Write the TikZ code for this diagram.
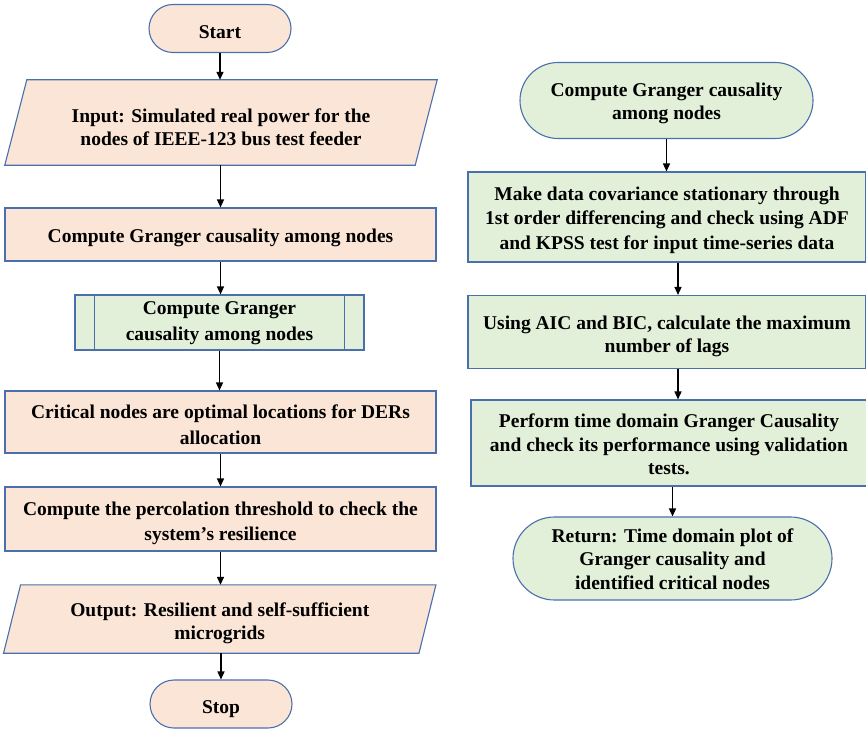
\documentclass[tikz,border=0pt]{standalone}
\usepackage{fontspec}
\setmainfont{Liberation Serif}
\usetikzlibrary{shapes.misc,arrows.meta,backgrounds}
\definecolor{peach}{HTML}{FBE5D6}
\definecolor{mint}{HTML}{E2F0D9}
\definecolor{edgec}{HTML}{4A6FAD}
\begin{document}
\begin{tikzpicture}[x=1pt,y=-1pt,
 lsp/.style={font=\fontsize{19.5}{#1}\selectfont\bfseries},
 dn/.style={execute at begin node={\rule{0pt}{#1}}},
 txt/.style={lsp=23.5pt, align=center, inner sep=0pt, text=black},
 base/.style={txt, dn=20.5pt},
 pbox/.style={base, draw=edgec, fill=peach, line width=1.1pt},
 gbox/.style={base, draw=edgec, fill=mint, line width=1.1pt},
 term/.style={rounded rectangle},
 para/.style={draw=edgec, fill=peach, line width=1.1pt},
 inner line/.style={draw=edgec, line width=1.1pt},
 arr/.style={-{Triangle[length=8pt,width=7pt]}, line width=1.4pt, black}]
\useasboundingbox (0,0) rectangle (866,733);

% left column
\node[pbox,term,minimum width=142,minimum height=48,dn=17.5pt] (start) at (220,28.5) {Start};
\node[minimum width=410,minimum height=85,inner sep=0pt] (input) at (221,122.5) {};
\node[txt,lsp=23pt] (inputT) at ([yshift=-5pt]input.center) {Input: Simulated real power for the\\nodes of IEEE-123 bus test feeder};
\node[pbox,minimum width=431,minimum height=53] (g1) at (220.5,234.5) {Compute Granger causality among nodes};
\node[gbox,minimum width=289,minimum height=55] (pre) at (219.5,322.5) {};
\node[txt,lsp=26pt] (preT) at ([yshift=-1pt]pre.center) {Compute Granger\\causality among nodes};
\node[pbox,minimum width=431,minimum height=62] (crit) at (220.5,422) {};
\node[txt,lsp=25.5pt] (critT) at ([yshift=-2.5pt]crit.center) {Critical nodes are optimal locations for DERs\\allocation};
\node[pbox,minimum width=431,minimum height=64] (perc) at (220.5,519) {};
\node[txt,lsp=25.5pt] (percT) at ([yshift=-4.5pt]perc.center) {Compute the percolation threshold to check the\\system’s resilience};
\node[minimum width=415,minimum height=68,inner sep=0pt] (output) at (219.75,619) {};
\node[txt,lsp=23pt] (outputT) at ([yshift=-4.5pt]output.center) {Output: Resilient and self-sufficient\\microgrids};
\node[pbox,term,minimum width=142,minimum height=48,dn=23pt] (stop) at (221,704) {Stop};

\begin{scope}[on background layer]
\draw[para] ([xshift=11pt]input.north west) -- ([xshift=11pt]input.north east) -- ([xshift=-11pt]input.south east) -- ([xshift=-11pt]input.south west) -- cycle;
\draw[para] ([xshift=8.5pt]output.north west) -- ([xshift=8.5pt]output.north east) -- ([xshift=-8.5pt]output.south east) -- ([xshift=-8.5pt]output.south west) -- cycle;
\end{scope}
\draw[inner line] ([xshift=20pt]pre.north west) -- ([xshift=20pt]pre.south west);
\draw[inner line] ([xshift=-20pt]pre.north east) -- ([xshift=-20pt]pre.south east);

% right column
\node[gbox,term,minimum width=293,minimum height=76] (rg) at (666.5,100.5) {};
\node[txt] (rgT) at ([yshift=-3pt]rg.center) {Compute Granger causality\\among nodes};
\node[gbox,minimum width=398,minimum height=90] (mk) at (667,217) {};
\node[txt,lsp=24.5pt] (mkT) at ([yshift=-3pt]mk.center) {Make data covariance stationary through\\1st order differencing and check using ADF\\and KPSS test for input time-series data};
\node[gbox,minimum width=398,minimum height=73] (aic) at (667,332) {};
\node[txt,lsp=23pt] (aicT) at ([yshift=-4pt]aic.center) {Using AIC and BIC, calculate the maximum\\number of lags};
\node[gbox,minimum width=396,minimum height=86] (perf) at (669,443) {};
\node[txt] (perfT) at ([yshift=-1.5pt]perf.center) {Perform time domain Granger Causality\\and check its performance using validation\\tests.};
\node[gbox,term,minimum width=319,minimum height=83] (ret) at (672.5,558.5) {};
\node[txt] (retT) at ([yshift=-0.5pt]ret.center) {Return: Time domain plot of\\Granger causality and\\identified critical nodes};

% arrows
\draw[arr] (start.south) -- (start.south |- input.north);
\draw[arr] (g1.north |- input.south) -- (g1.north);
\draw[arr] (g1.south) -- (g1.south |- pre.north);
\draw[arr] (pre.south) -- (pre.south |- crit.north);
\draw[arr] (crit.south) -- (crit.south |- perc.north);
\draw[arr] (perc.south) -- (perc.south |- output.north);
\draw[arr] (stop.north |- output.south) -- (stop.north);

\draw[arr] (rg.south) -- (rg.south |- mk.north);
\draw[arr] ([xshift=11pt]mk.south) -- ([xshift=11pt]mk.south |- aic.north);
\draw[arr] ([xshift=11pt]aic.south) -- ([xshift=11pt]aic.south |- perf.north);
\draw[arr] (ret.north |- perf.south) -- (ret.north);
\end{tikzpicture}
\end{document}
